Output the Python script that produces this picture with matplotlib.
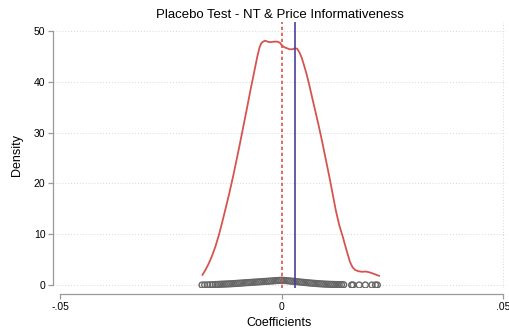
import numpy as np
import matplotlib.pyplot as plt

plt.rcParams['font.family'] = ['Liberation Sans', 'DejaVu Sans']

# kernel density of placebo coefficients
kde_x = [-0.0179, -0.0172, -0.0165, -0.0158, -0.0150, -0.0142, -0.0134, -0.0126,
         -0.0118, -0.0110, -0.0102, -0.0094, -0.0086, -0.0078, -0.0070, -0.0062,
         -0.0055, -0.0050, -0.0046, -0.0042, -0.0037, -0.0032, -0.0026, -0.0018,
         -0.0010, -0.0004, 0.0000, 0.0006, 0.0012, 0.0018, 0.0024, 0.0030,
         0.0035, 0.0040, 0.0045, 0.0050, 0.0056, 0.0062, 0.0068, 0.0075,
         0.0083, 0.0091, 0.0099, 0.0107, 0.0115, 0.0122, 0.0130, 0.0138,
         0.0146, 0.0154, 0.0160, 0.0166, 0.0174, 0.0181, 0.0190, 0.0198,
         0.0208, 0.0220]
kde_y = [2.0, 3.0, 4.2, 5.6, 7.5, 9.8, 12.5, 15.3,
         18.2, 21.3, 24.6, 28.0, 31.5, 35.0, 38.6, 42.0,
         45.0, 46.8, 47.6, 47.9, 48.1, 47.9, 47.8, 47.9,
         47.9, 47.7, 47.2, 46.8, 46.6, 46.4, 46.4, 46.6,
         46.5, 45.8, 44.8, 43.4, 41.6, 39.5, 37.2, 34.6,
         31.6, 28.4, 25.0, 21.6, 18.0, 14.8, 11.8, 9.5,
         7.0, 4.6, 3.5, 2.95, 2.7, 2.6, 2.65, 2.5,
         2.2, 1.8]

# placebo coefficients drawn as hollow circles near zero
coef_x = [-0.0180, -0.0174, -0.0168, -0.0162, -0.0156,
          -0.0150, -0.0145, -0.0140, -0.0135, -0.0130, -0.0125, -0.0120, -0.0115,
          -0.0110, -0.0105, -0.0100, -0.0095, -0.0090, -0.0085, -0.0080, -0.0075,
          -0.0070, -0.0065, -0.0060, -0.0055, -0.0050, -0.0045, -0.0040, -0.0035,
          -0.0030, -0.0025, -0.0020, -0.0015, -0.0010, -0.0005, 0.0000, 0.0005,
          0.0010, 0.0015, 0.0020, 0.0025, 0.0030, 0.0035, 0.0040, 0.0045,
          0.0050, 0.0055, 0.0060, 0.0065, 0.0070, 0.0075, 0.0080, 0.0085,
          0.0090, 0.0095, 0.0100, 0.0105, 0.0110, 0.0115, 0.0120, 0.0125,
          0.0130, 0.0135, 0.0140,
          0.0158, 0.0161, 0.0175, 0.0189, 0.0204, 0.0212, 0.0216]
coef_y = [0.00, 0.01, 0.02, 0.04, 0.06,
          0.09, 0.11, 0.14, 0.16, 0.18, 0.20, 0.22, 0.24,
          0.27, 0.30, 0.33, 0.36, 0.39, 0.42, 0.45, 0.48,
          0.51, 0.54, 0.57, 0.60, 0.63, 0.66, 0.69, 0.72,
          0.75, 0.78, 0.81, 0.85, 0.88, 0.91, 0.94, 0.90,
          0.86, 0.82, 0.78, 0.74, 0.70, 0.65, 0.60, 0.56,
          0.52, 0.47, 0.43, 0.39, 0.35, 0.32, 0.28, 0.25,
          0.22, 0.19, 0.17, 0.15, 0.13, 0.12, 0.10, 0.09,
          0.08, 0.06, 0.05,
          0.00, 0.00, 0.00, 0.00, 0.00, 0.00, 0.00]

true_coef = 0.003
x_ticks = [-0.05, 0, 0.05]
x_tick_labels = ['-.05', '0', '.05']
y_ticks = [0, 10, 20, 30, 40, 50]

red = '#d6544f'
blue = '#4a3f9c'
grey_axis = '#9a9a9a'

fig = plt.figure(figsize=(5.1, 3.31), dpi=100)
ax = fig.add_axes([53 / 510, 43 / 331, 453 / 510, 266 / 331])

for y in y_ticks:
    ax.axhline(y, color='#d8d8d8', linestyle=(0, (1, 2)), linewidth=0.7, zorder=0)
ax.axvline(0.05, color='#d8d8d8', linestyle=(0, (1, 2)), linewidth=0.7, zorder=0)

ax.plot(kde_x, kde_y, color=red, linewidth=1.3, zorder=3)
ax.scatter(coef_x, coef_y, s=18, facecolors='none', edgecolors='#666666',
           linewidths=1.0, zorder=2)
ax.axvline(0, color=red, linestyle=(0, (2, 1.6)), linewidth=1.2, zorder=4)
ax.axvline(true_coef, color=blue, linewidth=1.2, zorder=4)

ax.set_xlim(-0.05167, 0.05068)
ax.set_ylim(-0.59, 51.77)

for side in ['top', 'right']:
    ax.spines[side].set_visible(False)
ax.spines['left'].set_bounds(0, 50)
ax.spines['bottom'].set_bounds(-0.05, 0.05)
ax.spines['bottom'].set_position(('outward', 4.5))
for side in ['left', 'bottom']:
    ax.spines[side].set_color(grey_axis)
    ax.spines[side].set_linewidth(0.9)

ax.set_xticks(x_ticks)
ax.set_xticklabels(x_tick_labels)
ax.set_yticks(y_ticks)
ax.tick_params(axis='both', colors=grey_axis, labelcolor='black', labelsize=7.5,
               length=3.5, width=0.9, pad=2)

ax.set_title('Placebo Test - NT & Price Informativeness', fontsize=9.5, pad=3)
ax.set_xlabel('Coefficients', fontsize=9, labelpad=4)
ax.set_ylabel('Density', fontsize=9, labelpad=8)

fig.savefig('out.png', dpi=100)
